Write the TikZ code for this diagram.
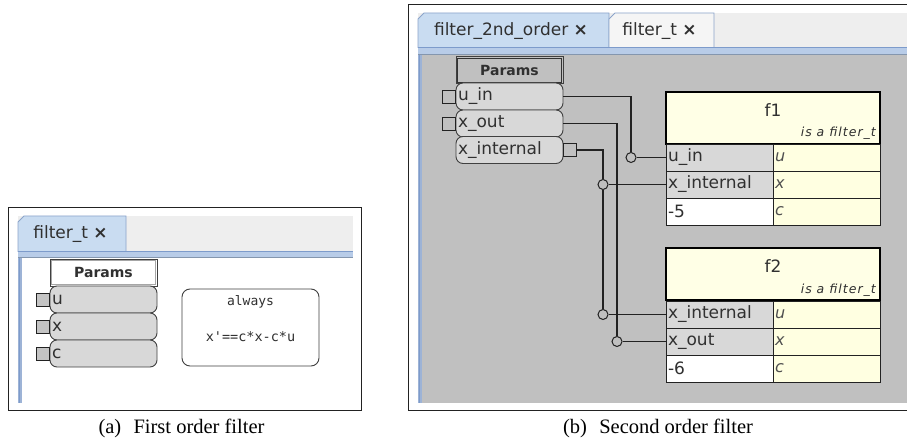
\documentclass[tikz,border=0pt]{standalone}
\usepackage{fontspec}
\newfontfamily\ui{DejaVu Sans}
\newfontfamily\uimono{DejaVu Sans Mono}
\newfontfamily\capfont{Liberation Serif}
\usetikzlibrary{calc}

\definecolor{uitext}{HTML}{303030}
\definecolor{tabbar}{HTML}{EEEEEE}
\definecolor{tabsel}{HTML}{C9DCF1}
\definecolor{tabedge}{HTML}{8BA4CA}
\definecolor{stripe}{HTML}{B8CCE8}
\definecolor{stripetop}{HTML}{7D9BCB}
\definecolor{stripebot}{HTML}{8496AE}
\definecolor{sideband}{HTML}{9DB3D6}
\definecolor{canvas}{HTML}{C0C0C0}
\definecolor{rowfill}{HTML}{D8D8D8}
\definecolor{rowline}{HTML}{404040}
\definecolor{portfill}{HTML}{C4C4C4}
\definecolor{wirec}{HTML}{222222}
\definecolor{titlefill}{HTML}{FFFFE6}
\definecolor{valfill}{HTML}{FFFFE1}

\newcommand{\closemark}{{\bfseries ×}}

\tikzset{
  uifont/.style={font=\ui\fontsize{17}{19}\selectfont, text=uitext},
  param/.style={uifont, draw=rowline, fill=rowfill, rounded corners=7pt, line width=0.9pt,
    minimum height=27pt, text width=103pt, inner xsep=2pt, inner ysep=0pt, align=left},
  paramhead/.style={draw=rowline, line width=0.9pt, minimum width=107pt, minimum height=27pt,
    inner sep=0pt, font=\ui\bfseries\fontsize{14}{16}\selectfont, text=uitext},
  port/.style={draw=wirec, fill=portfill, line width=0.9pt, minimum width=13pt,
    minimum height=13pt, inner sep=0pt},
  cell/.style={uifont, draw=wirec, line width=0.8pt, minimum height=27pt, text width=103pt,
    inner xsep=2pt, inner ysep=0pt, align=left},
  valcell/.style={cell, fill=valfill, font=\ui\itshape\fontsize{16}{19}\selectfont, text=uitext!85},
  titlebox/.style={draw=black, line width=2pt, fill=titlefill, minimum width=214pt,
    minimum height=52pt, inner sep=0pt},
  kind/.style={font=\ui\itshape\fontsize{12.5}{15}\selectfont\addfontfeatures{LetterSpace=8}, text=uitext, anchor=east, inner sep=0pt},
  joint/.style={circle, draw=wirec, fill=canvas, line width=1pt, minimum size=10pt, inner sep=0pt},
  wire/.style={draw=wirec, line width=1.2pt},
  tablabel/.style={uifont, inner sep=0pt},
  caption/.style={font=\capfont\fontsize{20.5}{24}\selectfont, text=black, inner sep=0pt},
}

\begin{document}
\begin{tikzpicture}[x=1pt, y=-1pt]
\useasboundingbox (0,0) rectangle (907,443);
\clip (0,0) rectangle (907,443);
\fill[white] (0,0) rectangle (907,443);

% ---------------- first order filter ----------------
\draw[wirec, line width=1pt] (8,208) rectangle (361,410);
\fill[tabbar] (18,216) rectangle (353,252);
\filldraw[fill=tabsel, draw=tabedge, line width=0.8pt]
  (18,252) -- (18,222) -- (24,216) -- (126,216) -- (126,252);
\node[tablabel] (tabA) at (70.5,234) {filter\_t \closemark};
\fill[stripe] (18,251) rectangle (353,258);
\draw[stripetop, line width=1pt] (18,251.5) -- (353,251.5);
\draw[stripebot, line width=1pt] (18,257.5) -- (353,257.5);
\fill[sideband] (18,258) rectangle (22,403);
\draw[stripetop, line width=1pt] (19,258) -- (19,403);

\node[paramhead, fill=white] (parA) at (103.5,272.5) {Params};
\draw[gray!70, line width=0.8pt] ($(parA.south west)+(2,-2)$) rectangle ($(parA.north east)+(-2,2)$);
\node[param] (u) at (103.5,299.5) {u};
\node[param] (x) at (103.5,326.5) {x};
\node[param] (c) at (103.5,353.5) {c};
\node[port, anchor=east] (up) at (u.west) {};
\node[port, anchor=east] (xp) at (x.west) {};
\node[port, anchor=east] (cp) at (c.west) {};

\node[draw=rowline, line width=0.9pt, fill=white, rounded corners=8pt,
      minimum width=137pt, minimum height=77pt, inner sep=0pt] (alw) at (250.5,327.5) {};
\node[font=\uimono\fontsize{13}{15}\selectfont, text=uitext, inner sep=0pt] (alwkw) at (250.5,302) {always};
\node[font=\uimono\fontsize{13.5}{15}\selectfont, text=uitext, inner sep=0pt] (alweq) at (250.5,337) {x'==c*x-c*u};

\node[caption] (capA) at (181.5,428) {(a)\hspace{0.6em}First order filter};

% ---------------- second order filter ----------------
\draw[wirec, line width=1pt] (408,5) rectangle (912,410);
\fill[tabbar] (418,13) rectangle (910,48);
\filldraw[fill=tabsel, draw=tabedge, line width=0.8pt]
  (418,48) -- (418,19) -- (424,13) -- (609,13) -- (609,48);
\filldraw[fill=tabbar!60!white, draw=tabedge, line width=0.8pt]
  (609,48) -- (609,19) -- (615,13) -- (714,13) -- (714,48);
\node[tablabel] (tabB1) at (511,31) {filter\_2nd\_order \closemark};
\node[tablabel] (tabB2) at (659.5,31) {filter\_t \closemark};
\fill[stripe] (418,47) rectangle (910,55);
\draw[stripetop, line width=1pt] (418,47.5) -- (910,47.5);
\draw[stripebot, line width=1pt] (418,54.5) -- (910,54.5);
\fill[canvas] (422,55) rectangle (910,403);
\fill[sideband] (418,55) rectangle (422,403);
\draw[stripetop, line width=1pt] (419,55) -- (419,403);

% parameters of the composite
\node[paramhead, fill=canvas] (parB) at (509.5,70) {Params};
\draw[gray!40!black, line width=0.6pt] ($(parB.south west)+(2,-2)$) rectangle ($(parB.north east)+(-2,2)$);
\node[param] (uin) at (509.5,96.5) {u\_in};
\node[param] (xout) at (509.5,123.5) {x\_out};
\node[param] (xint) at (509.5,150) {x\_internal};
\node[port, fill=canvas, anchor=east] (uinp) at (uin.west) {};
\node[port, fill=canvas, anchor=east] (xoutp) at (xout.west) {};
\node[port, fill=canvas, anchor=west] (xintp) at (xint.east) {};

% instance f1
\node[titlebox] (f1) at (773,118) {};
\node[uifont, inner sep=0pt] (f1name) at (773,110) {f1};
\node[kind] (f1kind) at (876,133) {is a filter\_t};
\node[cell, fill=rowfill] (f1u) at (719.5,157.5) {u\_in};
\node[valcell] (f1uv) at (826.5,157.5) {u};
\node[cell, fill=rowfill] (f1x) at (719.5,184.5) {x\_internal};
\node[valcell] (f1xv) at (826.5,184.5) {x};
\node[cell, fill=white] (f1c) at (719.5,211.5) {-5};
\node[valcell] (f1cv) at (826.5,211.5) {c};

% instance f2
\node[titlebox] (f2) at (773,274.5) {};
\node[uifont, inner sep=0pt] (f2name) at (773,266) {f2};
\node[kind] (f2kind) at (876,290) {is a filter\_t};
\node[cell, fill=rowfill] (f2u) at (719.5,314.5) {x\_internal};
\node[valcell] (f2uv) at (826.5,314.5) {u};
\node[cell, fill=rowfill] (f2x) at (719.5,341.5) {x\_out};
\node[valcell] (f2xv) at (826.5,341.5) {x};
\node[cell, fill=white] (f2c) at (719.5,368.5) {-6};
\node[valcell] (f2cv) at (826.5,368.5) {c};

% connection joints
\node[joint] (j1) at (631,157.5) {};
\node[joint] (j2) at (603,184.5) {};
\node[joint] (j3) at (603,314.5) {};
\node[joint] (j4) at (617,341.5) {};

% wires
\draw[wire] (uin.east) -| (j1.north);
\draw[wire] (j1.east) -- (f1u.west);
\draw[wire] (xintp.east) -| (j2.north);
\draw[wire] (j2.south) -- (j3.north);
\draw[wire] (j2.east) -- (f1x.west);
\draw[wire] (j3.east) -- (f2u.west);
\draw[wire] (xout.east) -| (j4.north);
\draw[wire] (j4.east) -- (f2x.west);

\node[caption] (capB) at (658,428) {(b)\hspace{0.6em}Second order filter};
\end{tikzpicture}
\end{document}
